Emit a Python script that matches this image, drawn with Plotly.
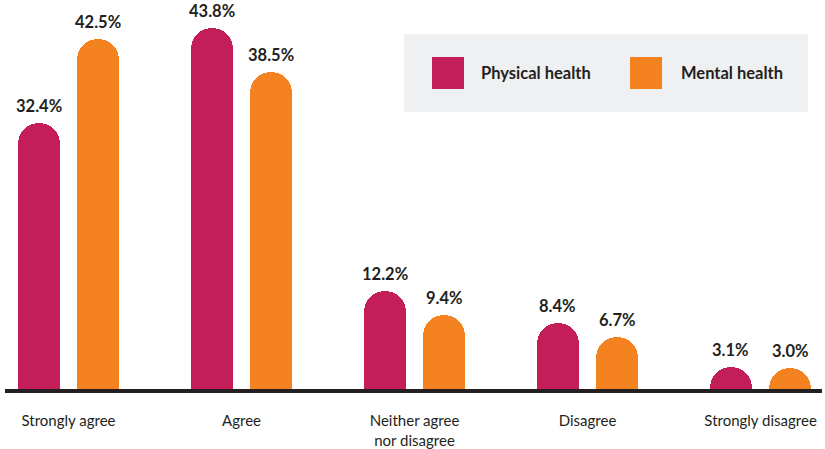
import plotly.graph_objects as go
import numpy as np

categories = ["Strongly agree", "Agree", "Neither agree<br>nor disagree", "Disagree", "Strongly disagree"]
series_names = ["Physical health", "Mental health"]
physical = [32.4, 43.8, 12.2, 8.4, 3.1]
mental = [42.5, 38.5, 9.4, 6.7, 3.0]
colors = ["#c41e5a", "#f58220"]

x_idx = np.arange(len(categories))
bar_w = 0.243
half_sep = 0.172

fig = go.Figure()
for vals, name, col, sgn in [(physical, series_names[0], colors[0], -1), (mental, series_names[1], colors[1], 1)]:
    fig.add_trace(go.Bar(
        x=x_idx, y=vals, name=name, marker_color=col, marker_line_width=0,
        width=bar_w, offset=sgn * half_sep - bar_w / 2, showlegend=False,
    ))
    for xi, v in zip(x_idx, vals):
        fig.add_annotation(x=xi + sgn * half_sep, y=v, xref="x", yref="y",
                           text=f"<b>{v:.1f}%</b>", showarrow=False, yanchor="bottom",
                           yshift=5, font=dict(family="Lato", size=16.5, color="#231f20"))

# baseline
fig.add_shape(type="line", xref="paper", yref="y", x0=0, x1=1, y0=0, y1=0,
              line=dict(color="#231f20", width=8), layer="above")

# legend box
fig.add_shape(type="rect", xref="paper", yref="paper", x0=(404-5)/817, x1=(808-5)/817,
              y0=1-(112/393), y1=1-(34/393), fillcolor="#eff0f2", line_width=0, layer="below")
sq = [(432, 464), (630, 662)]
tx = [479, 679]
for (a, b), t, name, col in zip(sq, tx, series_names, colors):
    fig.add_shape(type="rect", xref="paper", yref="paper", x0=(a-5)/817, x1=(b-5)/817,
                  y0=1-(89/393), y1=1-(57/393), fillcolor=col, line_width=0)
    fig.add_annotation(xref="paper", yref="paper", x=(t-5)/817, y=1-(73/393), xanchor="left",
                       yanchor="middle", text=f"<b>{name}</b>", showarrow=False,
                       font=dict(family="Lato", size=16.5, color="#231f20"))

fig.update_layout(
    width=825, height=449, margin=dict(l=5, r=3, t=0, b=56),
    plot_bgcolor="white", paper_bgcolor="white", bargap=0,
    xaxis=dict(range=[-0.367, 4.355], tickvals=x_idx, ticktext=categories,
               showgrid=False, zeroline=False, showline=False, ticks="outside",
               ticklen=14, tickcolor="rgba(0,0,0,0)", automargin=False,
               tickfont=dict(family="Lato", size=15, color="#231f20")),
    yaxis=dict(range=[0, 47.18], visible=False, automargin=False),
    barcornerradius="50%",
)

fig.write_html("out.html")
